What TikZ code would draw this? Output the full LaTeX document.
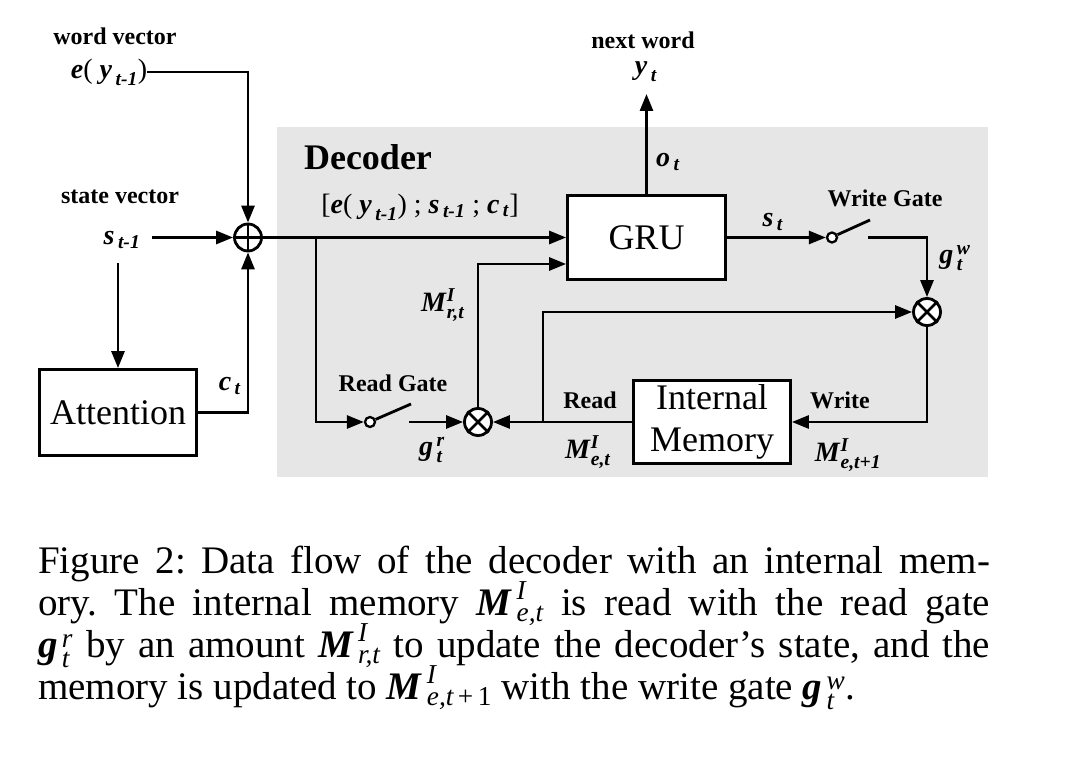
\documentclass[tikz,border=0pt]{standalone}
\usepackage{amsmath}
\usepackage{fontspec}
\setmainfont{Liberation Serif}
\usetikzlibrary{arrows.meta,calc}
\definecolor{panel}{RGB}{230,230,230}
\newcommand\bi[1]{\textbf{\textit{#1}}}
\newcommand\cm[3]{\bi{#1}^{\mkern3mu\textit{#2}}_{\mkern3mu#3}}
\tikzset{
  wire/.style={line width=2.8pt},
  arr/.style={line width=2.8pt,-{Triangle[length=17pt,width=13pt]}},
  opnode/.style={circle,draw,line width=2.8pt,minimum size=27pt,inner sep=0pt,fill=white},
  swnode/.style={circle,draw,line width=2.3pt,minimum size=10pt,inner sep=0pt,fill=white},
  blk/.style={draw,line width=2.8pt,fill=white,inner sep=0pt,font=\fontsize{36}{42}\selectfont,align=center},
  lbl/.style={inner sep=0pt,font=\fontsize{24}{28}\selectfont\bfseries},
  mlbl/.style={inner sep=0pt,font=\fontsize{28}{32}\selectfont},
}
\begin{document}
\begin{tikzpicture}[x=1pt,y=-1pt]
\useasboundingbox (0,0) rectangle (1082,775);
\fill[panel] (277,127) rectangle (988,477);

% operators and boxes
\node[opnode] (plus) at (248,237.5) {};
\draw[wire] (plus.north) -- (plus.south) (plus.west) -- (plus.east);
\node[opnode] (rx) at (478,422) {};
\draw[wire] (rx.north west) -- (rx.south east) (rx.north east) -- (rx.south west);
\node[opnode] (wx) at (927,312) {};
\draw[wire] (wx.north west) -- (wx.south east) (wx.north east) -- (wx.south west);
\node[blk,minimum width=157pt,minimum height=86pt] (att) at (118,412.5) {Attention};
\node[blk,minimum width=158pt,minimum height=84pt] (gru) at (646.5,237.5) {GRU};
\node[blk,minimum width=157pt,minimum height=83pt] (mem) at (712,422) {Internal\\Memory};
\node[swnode] (rsw) at (370,422) {};
\node[swnode] (wsw) at (832,237.5) {};

% labels
\node[lbl] (wv) at (115,36) {word vector};
\node[mlbl] (ey) at (109,72) {\bi{e}( $\bi{y}_{\,\bi{t-1}}$)};
\node[lbl] (sv) at (120,197) {state vector};
\node[mlbl] (st1) at (122,240) {$\bi{s}_{\,\bi{t-1}}$};
\node[mlbl] (ct) at (230,386) {$\bi{c}_{\,\bi{t}}$};
\node[lbl,font=\fontsize{36}{40}\selectfont\bfseries] (dec) at (368,157) {Decoder};
\node[mlbl] (concat) at (420,207) {[\bi{e}( $\bi{y}_{\,\bi{t-1}}$) ; $\bi{s}_{\,\bi{t-1}}$ ; $\bi{c}_{\,\bi{t}}$]};
\node[mlbl] (ot) at (668,162) {$\bi{o}_{\,\bi{t}}$};
\node[lbl] (nw) at (643,40) {next word};
\node[mlbl] (yt) at (646,72) {$\bi{y}_{\,\bi{t}}$};
\node[mlbl] (stl) at (773,222) {$\bi{s}_{\,\bi{t}}$};
\node[lbl] (wg) at (885,198) {Write Gate};
\node[mlbl] (gw) at (955,258) {$\bi{g}^{\,\bi{w}}_{\,\bi{t}}$};
\node[mlbl] (mr) at (443,305) {$\bi{M}^{\bi{I}}_{\bi{r,t}}$};
\node[lbl] (rg) at (393,383) {Read Gate};
\node[mlbl] (gr) at (432,450) {$\bi{g}^{\,\bi{r}}_{\,\bi{t}}$};
\node[lbl] (rd) at (590,400) {Read};
\node[mlbl] (me) at (588,452) {$\bi{M}^{\bi{I}}_{\bi{e,t}}$};
\node[lbl] (wr) at (840,400) {Write};
\node[mlbl] (me1) at (848,455) {$\bi{M}^{\bi{I}}_{\bi{e,t+1}}$};

% free ends
\coordinate (sin) at (152,237.5);
\coordinate (sdn) at (118,263);
\coordinate (br1) at (316,237.5);
\coordinate (rgo) at (409,422);
\coordinate (rlev) at (411,404);
\coordinate (br2) at (543,422);
\coordinate (yout) at (646.5,94);
\coordinate (wgo) at (868,237.5);
\coordinate (wlev) at (870,220);

% connectors
\draw[arr] (ey.east) -| (plus.north);
\draw[arr] (sin) -- (plus.west);
\draw[arr] (sdn) -- (att.north);
\draw[arr] (att.east) -| (plus.south);
\draw[arr] (plus.east) -- (gru.west);
\draw[arr] (br1) |- (rsw.west);
\draw[wire] (rsw.25) -- (rlev);
\draw[arr] (rgo) -- (rx.west);
\draw[arr] (mem.west) -- (rx.east);
\draw[arr] (br2) |- (wx.west);
\draw[arr] (rx.north) |- ([yshift=-26.5pt]gru.west);
\draw[arr] (gru.north) -- (yout);
\draw[arr] (gru.east) -- (wsw.west);
\draw[wire] (wsw.27) -- (wlev);
\draw[arr] (wgo) -| (wx.north);
\draw[arr] (wx.south) |- (mem.east);

% caption
\node[anchor=base west,inner sep=0pt] (cap) at (38,573) {\parbox[t]{952pt}{\fontsize{39}{42}\selectfont\frenchspacing\lineskiplimit=-200pt
\hbox to\hsize{Figure 2: Data flow of the decoder with an internal mem-}
\hbox to\hsize{ory. The internal memory $\cm{M}{I}{\textit{e,t}}$ is read with the read gate}
\hbox to\hsize{$\cm{g}{r}{\textit{t}}$ by an amount $\cm{M}{I}{\textit{r,t}}$ to update the decoder’s state, and the}
\hbox{memory is updated to $\cm{M}{I}{\textit{e,t}\text{\,+\,1}}$ with the write gate $\cm{g}{w}{\textit{t}}$.}}};
\end{tikzpicture}
\end{document}
